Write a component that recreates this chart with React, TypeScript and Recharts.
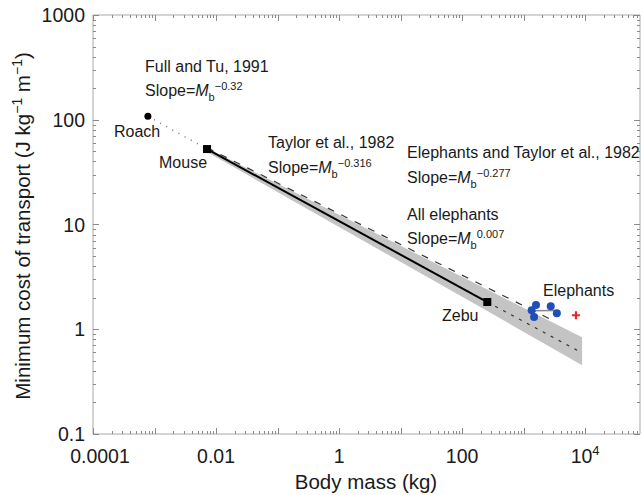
import React from 'react'
import { ComposedChart, XAxis, YAxis, Line, Area, Scatter } from 'recharts'

const FONT = '"Liberation Sans", Arial, sans-serif'
const INK = '#1a1a1a'
const AXIS = '#a8a8a8'
const TICK = '#8a8a8a'

// body mass (kg) vs minimum cost of transport (J kg-1 m-1)
const roach = [{ x: 0.00078, y: 108 }]
const mouse = [{ x: 0.00714, y: 52.5 }]
const zebu = [{ x: 257, y: 1.82 }]
const elephants = [
    { x: 1590, y: 1.7 },
    { x: 1350, y: 1.52 },
    { x: 1480, y: 1.31 },
    { x: 2760, y: 1.66 },
    { x: 3470, y: 1.42 }
]
const elephantOutlier = [{ x: 7100, y: 1.36 }]

// regression lines
const fullTuLine = [{ x: 0.00078, y: 108 }, { x: 0.00714, y: 52.5 }]
const taylorLine = [{ x: 0.00714, y: 52.5 }, { x: 257, y: 1.82 }]
const taylorExtension = [{ x: 257, y: 1.82 }, { x: 7400, y: 0.63 }]
const elephantsTaylorLine = [{ x: 0.00714, y: 54 }, { x: 2700, y: 1.25 }]
const allElephantsLine = [{ x: 1350, y: 1.5 }, { x: 3240, y: 1.51 }]

// confidence band [low, high]
const bandX = [0.00714, 257, 8930]
const bandLow = [49.2, 1.49, 0.454]
const bandHigh = [53.7, 2.39, 0.84]
const bandData = bandX.map((x, i) => ({ x, band: [bandLow[i], bandHigh[i]] }))

const X_MIN = 0.0001
const X_MAX = 78000
const Y_MIN = 0.1
const Y_MAX = 1000

const xLabelTicks = [0.0001, 0.01, 1, 100, 10000]
const xLabels = ['0.0001', '0.01', '1', '100', '10^4']
const yLabelTicks = [0.1, 1, 10, 100, 1000]
const yLabels = ['0.1', '1', '10', '100', '1000']

const xTickValues: number[] = []
for (let d = -4; d <= 4; d++) {
    for (let m = 1; m <= 9; m++) {
        const v = m * Math.pow(10, d)
        if (v <= X_MAX) xTickValues.push(v)
    }
}
const yTickValues: number[] = []
for (let d = -1; d <= 2; d++) {
    for (let m = 1; m <= 9; m++) yTickValues.push(m * Math.pow(10, d))
}
yTickValues.push(1000)

const same = (a: number, b: number) => Math.abs(Math.log10(a) - Math.log10(b)) < 1e-6
const isDecade = (v: number) => Math.abs(Math.log10(v) - Math.round(Math.log10(v))) < 1e-6
const labelFor = (v: number, ticks: number[], labels: string[]) => {
    const i = ticks.findIndex(t => same(t, v))
    return i >= 0 ? labels[i] : null
}
const crisp = (n: number) => Math.round(n) + 0.5

const BottomTick = (props: any) => {
    const { x, y, payload } = props
    const v = payload.value
    const len = isDecade(v) ? 6 : 3
    const label = labelFor(v, xLabelTicks, xLabels)
    const dx = same(v, xLabelTicks[0]) ? 7 : 0
    return (
        <g>
            <line x1={crisp(x)} y1={y} x2={crisp(x)} y2={y - len} stroke={TICK} strokeWidth={1} />
            {label && (
                <text x={x + dx} y={y + 29} textAnchor="middle" fontSize={19.5} fill={INK} fontFamily={FONT}>
                    {label === '10^4' ? (
                        <>
                            10<tspan dy={-8} fontSize={13}>4</tspan>
                        </>
                    ) : (
                        label
                    )}
                </text>
            )}
        </g>
    )
}

const TopTick = (props: any) => {
    const { x, y, payload } = props
    const len = isDecade(payload.value) ? 6 : 3
    return <line x1={crisp(x)} y1={y} x2={crisp(x)} y2={y + len} stroke={TICK} strokeWidth={1} />
}

const LeftTick = (props: any) => {
    const { x, y, payload } = props
    const v = payload.value
    const len = isDecade(v) ? 6 : 3
    const label = labelFor(v, yLabelTicks, yLabels)
    return (
        <g>
            <line x1={x} y1={crisp(y)} x2={x + len} y2={crisp(y)} stroke={TICK} strokeWidth={1} />
            {label && (
                <text x={x - 8} y={y + 7} textAnchor="end" fontSize={19.5} fill={INK} fontFamily={FONT}>
                    {label}
                </text>
            )}
        </g>
    )
}

const RightTick = (props: any) => {
    const { x, y, payload } = props
    const len = isDecade(payload.value) ? 6 : 3
    return <line x1={x} y1={crisp(y)} x2={x - len} y2={crisp(y)} stroke={TICK} strokeWidth={1} />
}

const Square = (p: any) => <rect x={p.cx - 4} y={p.cy - 4} width={8} height={8} fill="#000" />
const Dot = (p: any) => <circle cx={p.cx} cy={p.cy} r={3.5} fill="#000" />
const BlueDot = (p: any) => <circle cx={p.cx} cy={p.cy} r={4} fill="#1f4fb8" />
const RedPlus = (p: any) => (
    <path
        d={`M${p.cx - 4},${p.cy} L${p.cx + 4},${p.cy} M${p.cx},${p.cy - 4} L${p.cx},${p.cy + 4}`}
        stroke="#e5262b"
        strokeWidth={2.2}
    />
)

const Slope = ({ x, y, exp }: { x: number; y: number; exp: string }) => (
    <text x={x} y={y} fontSize={16} fill={INK} fontFamily={FONT}>
        Slope=<tspan fontStyle="italic">M</tspan>
        <tspan fontSize={11} dy={5}>b</tspan>
        <tspan fontSize={11} dy={-11}>{exp}</tspan>
    </text>
)

const Annotations = () => (
    <svg
        width={643}
        height={495}
        style={{ position: 'absolute', left: 0, top: 0, pointerEvents: 'none' }}
    >
        <g fontFamily={FONT} fill={INK}>
            <text x={145} y={72} fontSize={16}>Full and Tu, 1991</text>
            <Slope x={145} y={96} exp="−0.32" />
            <text x={114} y={137} fontSize={16}>Roach</text>
            <text x={159} y={168} fontSize={16}>Mouse</text>
            <text x={268} y={148} fontSize={16}>Taylor et al., 1982</text>
            <Slope x={268} y={173} exp="−0.316" />
            <text x={407} y={158} fontSize={16}>Elephants and Taylor et al., 1982</text>
            <Slope x={407} y={183} exp="−0.277" />
            <text x={407} y={220} fontSize={16}>All elephants</text>
            <Slope x={407} y={244} exp="0.007" />
            <text x={543} y={296} fontSize={16}>Elephants</text>
            <text x={442} y={321} fontSize={16}>Zebu</text>
            <text x={366} y={489} fontSize={20.5} textAnchor="middle">Body mass (kg)</text>
            <text transform="translate(29.5,226) rotate(-90)" fontSize={20.5} textAnchor="middle">
                Minimum cost of transport (J kg<tspan fontSize={14} dy={-8}>−1</tspan>
                <tspan dy={8}> m</tspan>
                <tspan fontSize={14} dy={-8}>−1</tspan>
                <tspan dy={8}>)</tspan>
            </text>
        </g>
    </svg>
)

export default function App() {
    return (
        <div style={{ position: 'relative', width: 643, height: 495, overflow: 'hidden', background: '#fff' }}>
            <style>{'html, body { margin: 0; padding: 0; overflow: hidden; }'}</style>
            <ComposedChart width={643} height={495} margin={{ top: 14, right: 0, bottom: 0, left: 0 }}>
                <XAxis
                    xAxisId={0}
                    dataKey="x"
                    type="number"
                    scale="log"
                    domain={[X_MIN, X_MAX]}
                    allowDataOverflow
                    ticks={xTickValues}
                    interval={0}
                    tickSize={0}
                    tickMargin={0}
                    height={61}
                    stroke={AXIS}
                    tickLine={false}
                    tick={<BottomTick />}
                />
                <XAxis
                    xAxisId="top"
                    orientation="top"
                    dataKey="x"
                    type="number"
                    scale="log"
                    domain={[X_MIN, X_MAX]}
                    allowDataOverflow
                    ticks={xTickValues}
                    interval={0}
                    tickSize={0}
                    tickMargin={0}
                    height={1}
                    stroke={AXIS}
                    tickLine={false}
                    tick={<TopTick />}
                />
                <YAxis
                    yAxisId={0}
                    type="number"
                    scale="log"
                    domain={[Y_MIN, Y_MAX]}
                    allowDataOverflow
                    ticks={yTickValues}
                    interval={0}
                    tickSize={0}
                    tickMargin={0}
                    width={93}
                    stroke={AXIS}
                    tickLine={false}
                    tick={<LeftTick />}
                />
                <YAxis
                    yAxisId="right"
                    orientation="right"
                    type="number"
                    scale="log"
                    domain={[Y_MIN, Y_MAX]}
                    allowDataOverflow
                    ticks={yTickValues}
                    interval={0}
                    tickSize={0}
                    tickMargin={0}
                    width={3}
                    stroke={AXIS}
                    tickLine={false}
                    tick={<RightTick />}
                />
                <Area
                    data={bandData}
                    dataKey="band"
                    type="linear"
                    fill="#c4c4c4"
                    fillOpacity={1}
                    stroke="none"
                    isAnimationActive={false}
                />
                <Line data={fullTuLine} dataKey="y" type="linear" stroke="#777" strokeWidth={1.5} strokeDasharray="1 6" dot={false} isAnimationActive={false} />
                <Line data={elephantsTaylorLine} dataKey="y" type="linear" stroke="#333" strokeWidth={1.2} strokeDasharray="7 8" dot={false} isAnimationActive={false} />
                <Line data={taylorLine} dataKey="y" type="linear" stroke="#000" strokeWidth={2} dot={false} isAnimationActive={false} />
                <Line data={taylorExtension} dataKey="y" type="linear" stroke="#333" strokeWidth={1.2} strokeDasharray="3 6" dot={false} isAnimationActive={false} />
                <Line data={allElephantsLine} dataKey="y" type="linear" stroke="#888" strokeWidth={1.5} dot={false} isAnimationActive={false} />
                <Scatter data={roach} dataKey="y" shape={<Dot />} isAnimationActive={false} />
                <Scatter data={mouse} dataKey="y" shape={<Square />} isAnimationActive={false} />
                <Scatter data={zebu} dataKey="y" shape={<Square />} isAnimationActive={false} />
                <Scatter data={elephants} dataKey="y" shape={<BlueDot />} isAnimationActive={false} />
                <Scatter data={elephantOutlier} dataKey="y" shape={<RedPlus />} isAnimationActive={false} />
            </ComposedChart>
            <Annotations />
        </div>
    )
}
